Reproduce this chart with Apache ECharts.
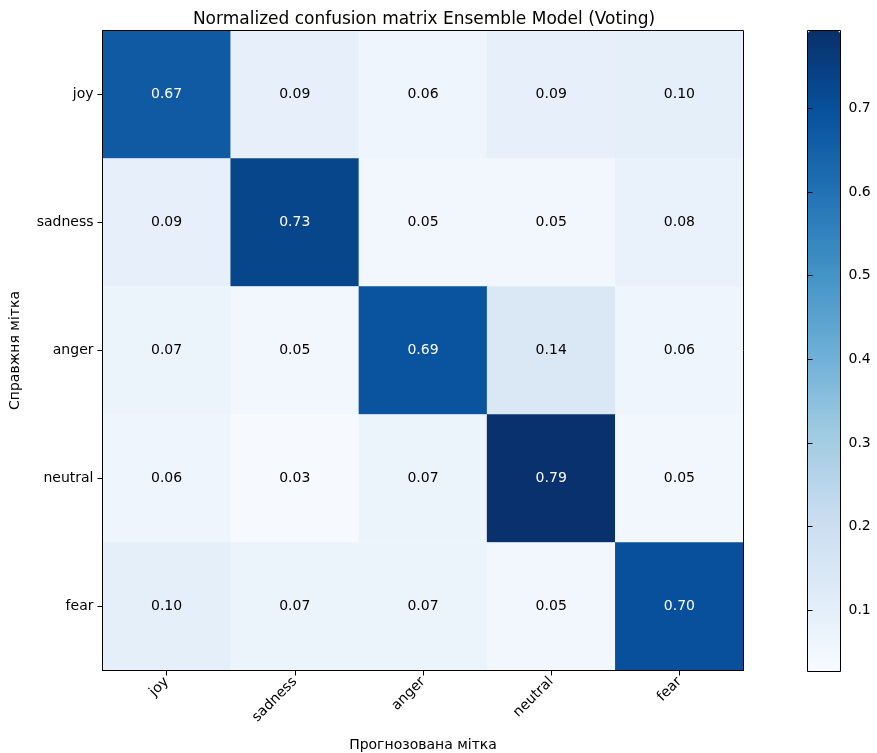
<!DOCTYPE html>
<html>
<head>
<meta charset="utf-8">
<script src="https://cdn.jsdelivr.net/npm/echarts@6/dist/echarts.min.js"></script>
<style>
  html, body { margin: 0; padding: 0; background: #fff; }
  #chart { width: 877px; height: 753px; }
</style>
</head>
<body>
<div id="chart"></div>
<script>
// Class labels (rows = true label, columns = predicted label)
const classes = ['joy', 'sadness', 'anger', 'neutral', 'fear'];

// Normalized confusion matrix, one array per true class
const rowJoy     = [0.67, 0.09, 0.06, 0.09, 0.10];
const rowSadness = [0.09, 0.73, 0.05, 0.05, 0.08];
const rowAnger   = [0.07, 0.05, 0.69, 0.14, 0.06];
const rowNeutral = [0.06, 0.03, 0.07, 0.79, 0.05];
const rowFear    = [0.10, 0.07, 0.07, 0.05, 0.70];
const matrixRows = [rowJoy, rowSadness, rowAnger, rowNeutral, rowFear];

// Colour bar range and tick labels
const colorMin = 0.027;
const colorMax = 0.793;
const colorTicks = [0.1, 0.2, 0.3, 0.4, 0.5, 0.6, 0.7];

// matplotlib "Blues" colour map
const blues = ['#f7fbff', '#deebf7', '#c6dbef', '#9ecae1', '#6baed6',
               '#4292c6', '#2171b5', '#08519c', '#08306b'];

const FONT = 'DejaVu Sans';
const threshold = (colorMax + colorMin) / 2;

const cells = [];
matrixRows.forEach((row, r) => {
  row.forEach((v, c) => cells.push({
    value: [c, r, v],
    label: { color: v > threshold ? '#ffffff' : '#000000' }
  }));
});

const frameLine = { show: true, onZero: false, lineStyle: { color: '#000', width: 1 } };
const tickStyle = { show: true, length: 5, lineStyle: { color: '#000' } };

const chart = echarts.init(document.getElementById('chart'), null, { renderer: 'canvas' });

chart.setOption({
  animation: false,
  backgroundColor: '#ffffff',
  textStyle: { fontFamily: FONT },
  title: {
    text: 'Normalized confusion matrix Ensemble Model (Voting)',
    left: 419, top: 6, textAlign: 'center',
    textStyle: { fontFamily: FONT, fontSize: 17, fontWeight: 'normal', color: '#000' }
  },
  // half-pixel offsets keep the 1px frames crisp
  grid: [
    { left: 102.5, top: 30.5, width: 641, height: 640, show: true, z: 5,
      borderColor: '#000', borderWidth: 1, backgroundColor: 'transparent',
      outerBoundsMode: 'none', containLabel: false },
    { left: 807.5, top: 30.5, width: 33, height: 641, show: true, z: 5,
      borderColor: '#000', borderWidth: 1, backgroundColor: 'transparent',
      outerBoundsMode: 'none', containLabel: false }
  ],
  xAxis: [
    {
      type: 'category', gridIndex: 0, data: classes, position: 'bottom', z: 20,
      name: 'Прогнозована мітка', nameLocation: 'middle', nameGap: 68,
      nameTextStyle: { fontFamily: FONT, fontSize: 14, color: '#000' },
      axisLine: frameLine,
      axisTick: Object.assign({ alignWithLabel: true }, tickStyle),
      axisLabel: { rotate: 45, fontFamily: FONT, fontSize: 14, color: '#000', margin: 9 },
      splitLine: { show: false }
    },
    {
      type: 'value', gridIndex: 1, show: false, min: 0, max: 1
    }
  ],
  yAxis: [
    {
      type: 'category', gridIndex: 0, data: classes, inverse: true, position: 'left', z: 20,
      name: 'Справжня мітка', nameLocation: 'middle', nameGap: 80,
      nameTextStyle: { fontFamily: FONT, fontSize: 14, color: '#000' },
      axisLine: frameLine,
      axisTick: Object.assign({ alignWithLabel: true }, tickStyle),
      axisLabel: { fontFamily: FONT, fontSize: 14, color: '#000', margin: 9 },
      splitLine: { show: false }
    },
    {
      type: 'value', gridIndex: 1, position: 'right', z: 20,
      min: colorMin, max: colorMax,
      axisLine: { show: false },
      axisTick: Object.assign({ customValues: colorTicks }, tickStyle),
      axisLabel: {
        fontFamily: FONT, fontSize: 14, color: '#000', margin: 8,
        customValues: colorTicks, formatter: v => v.toFixed(1)
      },
      splitLine: { show: false }
    }
  ],
  visualMap: {
    type: 'continuous',
    min: colorMin, max: colorMax,
    seriesIndex: 0,
    calculable: false,
    showLabel: false,
    text: null,
    orient: 'vertical',
    left: 808, top: 31,
    itemWidth: 32, itemHeight: 640,
    padding: 0,
    z: 1,
    inRange: { color: blues }
  },
  series: [
    {
      type: 'heatmap',
      xAxisIndex: 0, yAxisIndex: 0,
      data: cells,
      z: 1,
      itemStyle: { borderWidth: 0 },
      emphasis: { disabled: true },
      label: {
        show: true,
        fontFamily: FONT,
        fontSize: 14,
        formatter: p => p.value[2].toFixed(2)
      }
    }
  ]
});
</script>
</body>
</html>
